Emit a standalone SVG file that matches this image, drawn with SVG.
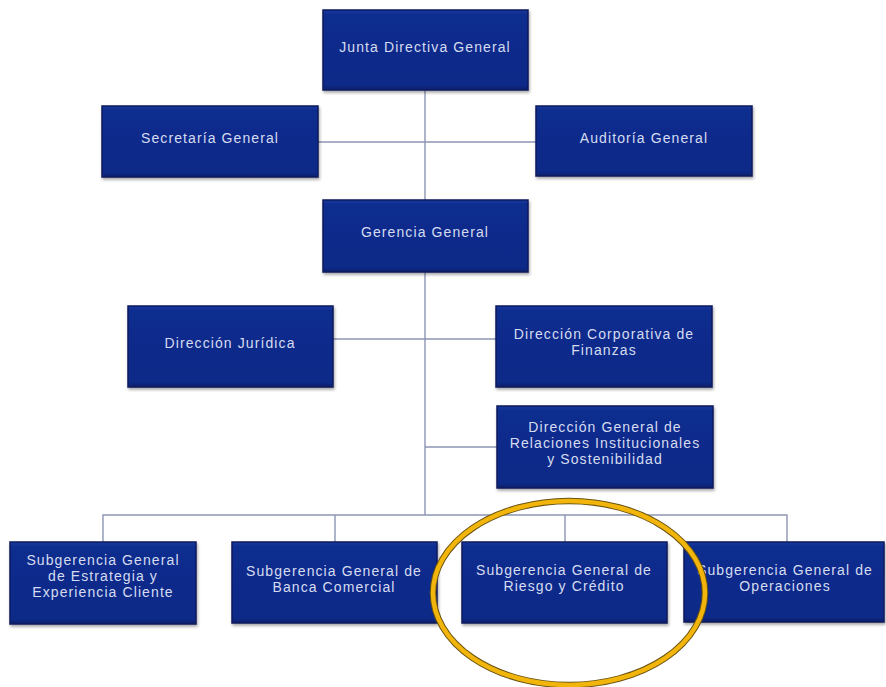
<svg xmlns="http://www.w3.org/2000/svg" width="886" height="687" viewBox="0 0 886 687">
  <style>
    .box { fill: url(#navy); stroke: #0a1a5c; stroke-width: 1.5; filter: url(#shadow); }
    .lbl { font-family: "Liberation Sans", Arial, sans-serif; font-size: 14px; fill: #d6dcf0; text-anchor: middle; letter-spacing: 1.1px; }
    .wire { stroke: #8c95b4; stroke-width: 1.4; fill: none; }
  </style>
  <defs>
    <linearGradient id="navy" x1="0" y1="0" x2="0" y2="1">
      <stop offset="0" stop-color="#1a3aa0"/>
      <stop offset="0.06" stop-color="#0c2d8e"/>
      <stop offset="0.94" stop-color="#0a2a88"/>
      <stop offset="1" stop-color="#081f6a"/>
    </linearGradient>
    <filter id="shadow" x="-10%" y="-10%" width="120%" height="130%">
      <feDropShadow dx="1" dy="2" stdDeviation="1.5" flood-color="#000" flood-opacity="0.35"/>
    </filter>
  </defs>
  <rect width="886" height="687" fill="#ffffff"/>

  <!-- connectors -->
  <g id="connectors">
    <line class="wire" x1="425" y1="90" x2="425" y2="200"/>
    <line class="wire" x1="318" y1="142" x2="536" y2="142"/>
    <line class="wire" x1="425" y1="272" x2="425" y2="515"/>
    <line class="wire" x1="333" y1="339" x2="496" y2="339"/>
    <line class="wire" x1="425" y1="447" x2="497" y2="447"/>
    <polyline class="wire" points="103,542 103,515 787,515 787,542"/>
    <line class="wire" x1="335" y1="515" x2="335" y2="542"/>
    <line class="wire" x1="565" y1="515" x2="565" y2="542"/>
  </g>

  <g id="junta">
    <rect class="box" x="323" y="10" width="205" height="80"/>
    <text class="lbl" x="425" y="52">Junta Directiva General</text>
  </g>
  <g id="secretaria">
    <rect class="box" x="102" y="106" width="216" height="71"/>
    <text class="lbl" x="210" y="143">Secretaría General</text>
  </g>
  <g id="auditoria">
    <rect class="box" x="536" y="106" width="216" height="70"/>
    <text class="lbl" x="644" y="143">Auditoría General</text>
  </g>
  <g id="gerencia">
    <rect class="box" x="323" y="200" width="205" height="72"/>
    <text class="lbl" x="425" y="237">Gerencia General</text>
  </g>
  <g id="juridica">
    <rect class="box" x="128" y="306" width="205" height="81"/>
    <text class="lbl" x="230" y="348">Dirección Jurídica</text>
  </g>
  <g id="finanzas">
    <rect class="box" x="496" y="306" width="216" height="81"/>
    <text class="lbl" x="604" y="339">Dirección Corporativa de</text>
    <text class="lbl" x="604" y="355">Finanzas</text>
  </g>
  <g id="relaciones">
    <rect class="box" x="497" y="406" width="216" height="82"/>
    <text class="lbl" x="605" y="432">Dirección General de</text>
    <text class="lbl" x="605" y="448">Relaciones Institucionales</text>
    <text class="lbl" x="605" y="464">y Sostenibilidad</text>
  </g>
  <g id="estrategia">
    <rect class="box" x="10" y="542" width="186" height="82"/>
    <text class="lbl" x="103" y="565">Subgerencia General</text>
    <text class="lbl" x="103" y="581">de Estrategia y</text>
    <text class="lbl" x="103" y="597">Experiencia Cliente</text>
  </g>
  <g id="banca">
    <rect class="box" x="232" y="542" width="205" height="81"/>
    <text class="lbl" x="334" y="576">Subgerencia General de</text>
    <text class="lbl" x="334" y="592">Banca Comercial</text>
  </g>
  <g id="riesgo">
    <rect class="box" x="462" y="542" width="205" height="81"/>
    <text class="lbl" x="564" y="575">Subgerencia General de</text>
    <text class="lbl" x="564" y="591">Riesgo y Crédito</text>
  </g>
  <g id="operaciones">
    <rect class="box" x="684" y="542" width="200" height="80"/>
    <text class="lbl" x="785" y="575">Subgerencia General de</text>
    <text class="lbl" x="785" y="591">Operaciones</text>
  </g>

  <!-- highlight ring -->
  <g id="highlight">
    <ellipse cx="569" cy="593" rx="136" ry="92" fill="none" stroke="#6b5410" stroke-width="6.5"/>
    <ellipse cx="569" cy="593" rx="136" ry="92" fill="none" stroke="#f2b50c" stroke-width="4.5"/>
  </g>
</svg>
